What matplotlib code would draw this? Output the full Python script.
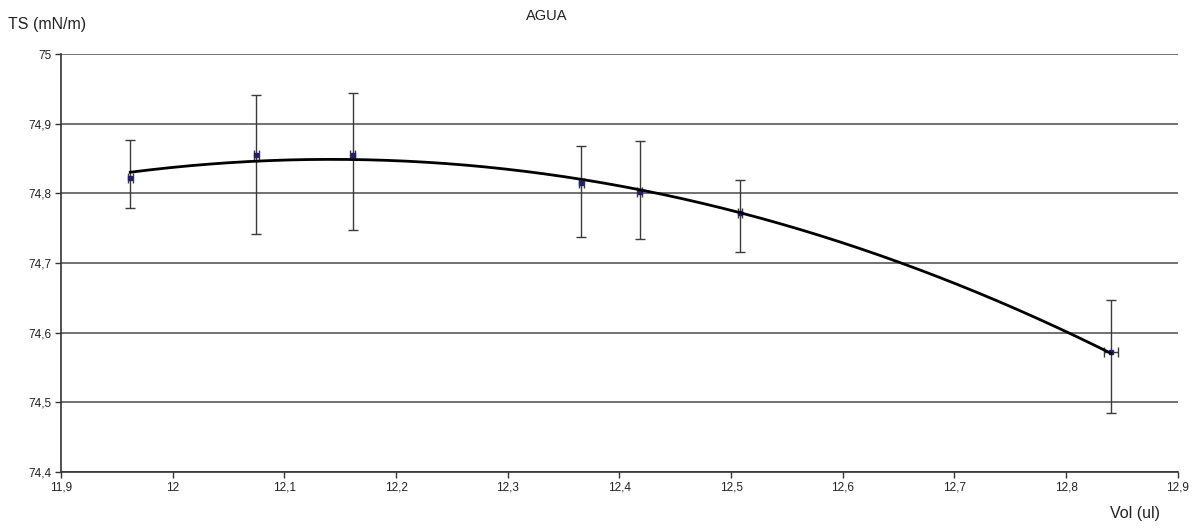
import numpy as np
import matplotlib.pyplot as plt
from matplotlib.ticker import FuncFormatter, MultipleLocator

# datos
vol = [11.962, 12.075, 12.161, 12.366, 12.418, 12.508, 12.840]
ts = [74.822, 74.855, 74.855, 74.815, 74.802, 74.772, 74.572]
err_up = [0.055, 0.086, 0.089, 0.053, 0.073, 0.047, 0.075]
err_down = [0.043, 0.113, 0.108, 0.078, 0.067, 0.056, 0.087]
vol_err = [0.002, 0.002, 0.002, 0.002, 0.002, 0.002, 0.006]

plt.rcParams['font.family'] = ['Liberation Sans', 'DejaVu Sans']

fig = plt.figure(figsize=(11.97, 5.30), dpi=100)
ax = fig.add_axes([0.051, 0.1094, 0.933, 0.7887])

ax.errorbar(vol, ts, yerr=[err_down, err_up], xerr=vol_err, fmt='s', ms=2.5,
            color='#1f1f7a', ecolor='#3a3a3a', elinewidth=1, capsize=3.5,
            capthick=1, zorder=3)

# linea de tendencia polinomica (orden 2)
coef = np.polyfit(vol, ts, 2)
xs = np.linspace(min(vol), max(vol), 200)
ax.plot(xs, np.polyval(coef, xs), color='black', lw=2, zorder=4)

ax.set_xlim(11.9, 12.9)
ax.set_ylim(74.4, 75)
ax.xaxis.set_major_locator(MultipleLocator(0.1))
ax.yaxis.set_major_locator(MultipleLocator(0.1))
fmt = FuncFormatter(lambda v, p: ('%g' % round(v, 2)).replace('.', ','))
ax.xaxis.set_major_formatter(fmt)
ax.yaxis.set_major_formatter(fmt)
ax.tick_params(labelsize=8.5, length=4, width=1, color='#333333', pad=3,
               labelcolor='#222222')

ax.grid(axis='y', color='#4a4a4a', lw=1.1)
ax.set_axisbelow(True)
for s in ['top', 'right']:
    ax.spines[s].set_visible(False)
for s in ['left', 'bottom']:
    ax.spines[s].set_color('#333333')
    ax.spines[s].set_linewidth(1.2)

fig.text(0.457, 0.97, 'AGUA', fontsize=10.5, ha='center', va='center', color='#222222')
fig.text(0.007, 0.953, 'TS (mN/m)', fontsize=11.5, ha='left', va='center', color='#222222')
fig.text(0.948, 0.032, 'Vol (ul)', fontsize=11.5, ha='center', va='center', color='#222222')

fig.savefig('out.png', dpi=100)
